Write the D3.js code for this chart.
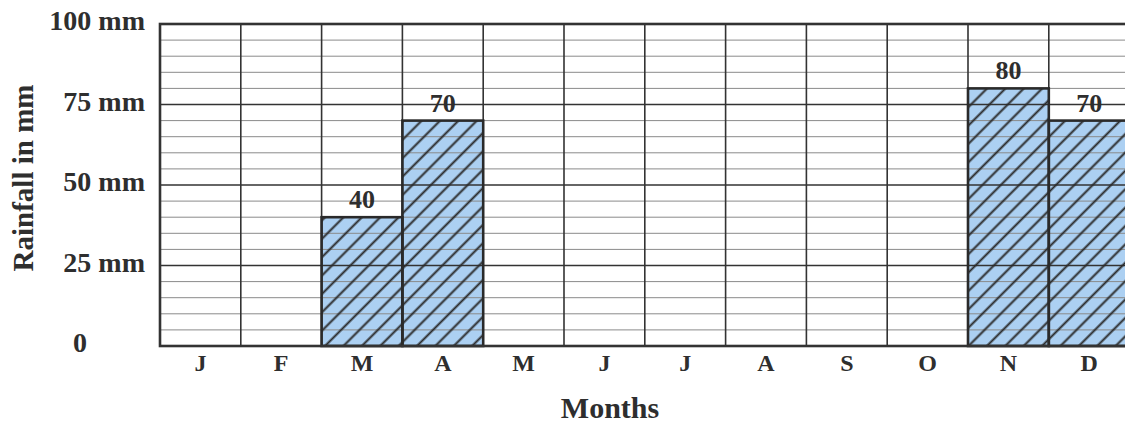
<!DOCTYPE html>
<html>
<head>
<meta charset="utf-8">
<script src="https://cdn.jsdelivr.net/npm/d3@7/dist/d3.min.js"></script>
<style>
  html, body { margin: 0; padding: 0; background: #fff; }
  svg { display: block; }
  text { font-family: "Liberation Serif", "Times New Roman", serif; font-weight: bold; fill: #2e2e2e; }
</style>
</head>
<body>
<svg id="chart" width="1125" height="424"></svg>
<script>
// ---- data ----
const months = ["J", "F", "M", "A", "M", "J", "J", "A", "S", "O", "N", "D"];
const rainfall = [0, 0, 40, 70, 0, 0, 0, 0, 0, 0, 80, 70];
const yTickValues = [0, 25, 50, 75, 100];
const yTickLabels = ["0", "25 mm", "50 mm", "75 mm", "100 mm"];
const minorStep = 5;
const yLabel = "Rainfall in mm";
const xLabel = "Months";

(function () {
// ---- layout ----
const svg = d3.select("#chart");
const pLeft = 160, pTop = 24, pBottom = 346, colW = 80.8;
const pRight = pLeft + colW * months.length;
const ids = months.map((m, i) => i);

const x = d3.scaleBand().domain(ids).range([pLeft, pRight]).padding(0);
const y = d3.scaleLinear().domain([0, 100]).range([pBottom, pTop]);

// hatch pattern
const defs = svg.append("defs");
const pat = defs.append("pattern")
  .attr("id", "hatch")
  .attr("patternUnits", "userSpaceOnUse")
  .attr("width", 13).attr("height", 13)
  .attr("patternTransform", "rotate(45)");
pat.append("line")
  .attr("x1", 6.5).attr("y1", 0).attr("x2", 6.5).attr("y2", 13)
  .attr("stroke", "#2a2a2a").attr("stroke-width", 2);

const data = months.map((m, i) => ({ i, m, v: rainfall[i] })).filter(d => d.v > 0);

// bar fill
svg.append("g").selectAll("rect").data(data).join("rect")
  .attr("x", d => x(d.i)).attr("y", d => y(d.v))
  .attr("width", x.bandwidth()).attr("height", d => y(0) - y(d.v))
  .attr("fill", "#acd0f2");

// minor grid
const minor = d3.range(0, 100 + 0.001, minorStep).filter(v => v % 25 !== 0);
svg.append("g").selectAll("line").data(minor).join("line")
  .attr("x1", pLeft).attr("x2", pRight)
  .attr("y1", d => y(d)).attr("y2", d => y(d))
  .attr("stroke", "#8a8a8a").attr("stroke-width", 1);

// major grid
svg.append("g").selectAll("line").data(yTickValues).join("line")
  .attr("x1", pLeft).attr("x2", pRight)
  .attr("y1", d => y(d)).attr("y2", d => y(d))
  .attr("stroke", "#333").attr("stroke-width", 1.6);

// vertical grid
svg.append("g").selectAll("line").data(ids).join("line")
  .attr("x1", d => x(d)).attr("x2", d => x(d))
  .attr("y1", pTop).attr("y2", pBottom)
  .attr("stroke", "#333").attr("stroke-width", 1.6);

// hatch overlay
svg.append("g").selectAll("rect").data(data).join("rect")
  .attr("x", d => x(d.i)).attr("y", d => y(d.v))
  .attr("width", x.bandwidth()).attr("height", d => y(0) - y(d.v))
  .attr("fill", "url(#hatch)");

// bar outline
svg.append("g").selectAll("rect").data(data).join("rect")
  .attr("x", d => x(d.i)).attr("y", d => y(d.v))
  .attr("width", x.bandwidth()).attr("height", d => y(0) - y(d.v))
  .attr("fill", "none").attr("stroke", "#2a2a2a").attr("stroke-width", 2.6);

// frame
svg.append("rect")
  .attr("x", pLeft).attr("y", pTop).attr("width", pRight - pLeft).attr("height", pBottom - pTop)
  .attr("fill", "none").attr("stroke", "#333").attr("stroke-width", 2.6);

// value labels
svg.append("g").selectAll("text").data(data).join("text")
  .attr("x", d => x(d.i) + x.bandwidth() / 2)
  .attr("y", d => y(d.v) - 9)
  .attr("text-anchor", "middle")
  .style("font-size", "26px")
  .text(d => d.v);

// y axis
const yAxis = d3.axisLeft(y)
  .tickValues(yTickValues)
  .tickFormat((d, i) => yTickLabels[i])
  .tickSize(0).tickPadding(15);
const gy = svg.append("g").attr("transform", `translate(${pLeft},0)`).call(yAxis);
gy.select(".domain").remove();
gy.attr("font-size", null).attr("font-family", null);
gy.selectAll("text")
  .attr("fill", "#2e2e2e")
  .style("font-size", "28px")
  .attr("dy", "0.2em");
gy.selectAll(".tick").filter(d => d === 0).select("text")
  .attr("text-anchor", "middle").attr("x", -80);

// x axis
const xAxis = d3.axisBottom(x).tickFormat(i => months[i]).tickSize(0).tickPadding(8);
const gx = svg.append("g").attr("transform", `translate(0,${pBottom})`).call(xAxis);
gx.select(".domain").remove();
gx.attr("font-size", null).attr("font-family", null);
gx.selectAll("text")
  .attr("fill", "#2e2e2e")
  .style("font-size", "24px");

// axis titles
svg.append("text")
  .attr("x", 610).attr("y", 418)
  .attr("text-anchor", "middle")
  .style("font-size", "30px")
  .text(xLabel);

svg.append("text")
  .attr("transform", "translate(33,178) rotate(-90)")
  .attr("text-anchor", "middle")
  .style("font-size", "29px")
  .text(yLabel);
})();
</script>
</body>
</html>
